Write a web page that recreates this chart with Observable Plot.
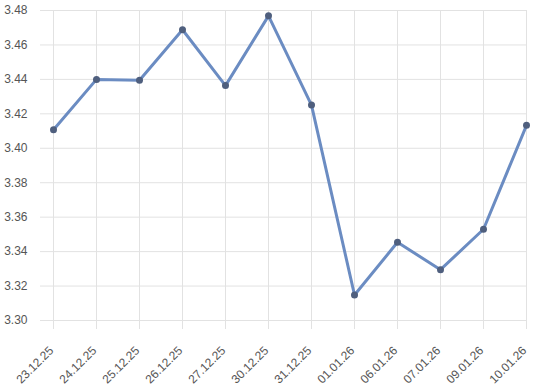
<!DOCTYPE html>
<html>
<head>
<meta charset="utf-8">
<script src="https://cdn.jsdelivr.net/npm/d3@7"></script>
<script src="https://cdn.jsdelivr.net/npm/@observablehq/plot@0.6"></script>
<style>
  html, body { margin: 0; padding: 0; background: #fff; }
</style>
</head>
<body>
<div id="chart"></div>
<script>
const dates = ["23.12.25","24.12.25","25.12.25","26.12.25","27.12.25","30.12.25","31.12.25","01.01.26","06.01.26","07.01.26","09.01.26","10.01.26"];
const values = [3.4108, 3.4400, 3.4395, 3.4688, 3.4364, 3.4769, 3.4251, 3.3148, 3.3454, 3.3295, 3.3530, 3.4133];
const yTicks = [3.30, 3.32, 3.34, 3.36, 3.38, 3.40, 3.42, 3.44, 3.46, 3.48];

const data = dates.map((d, i) => ({date: d, value: values[i]}));

const chart = Plot.plot({
  width: 536,
  height: 391,
  marginLeft: 40,
  marginRight: 9,
  marginTop: 10,
  marginBottom: 71,
  style: {fontFamily: "'Liberation Sans', Arial, sans-serif", fontSize: "12px", background: "#fff"},
  x: {type: "point", domain: dates, padding: 0, insetLeft: 11, label: null},
  y: {domain: [3.30, 3.48], label: null},
  marks: [
    Plot.ruleY(yTicks, {stroke: "#e2e2e2", strokeWidth: 1}),
    Plot.ruleX(dates, {y1: 3.48, y2: 3.30, insetBottom: -9, stroke: "#e2e2e2", strokeWidth: 1}),
    Plot.axisY(yTicks, {tickSize: 0, tickPadding: 13, tickFormat: d => d.toFixed(2), fill: "#555", fontSize: 12}),
    Plot.axisX({tickSize: 0, tickPadding: 28, dx: -2, tickRotate: -45, fill: "#555", fontSize: 12}),
    Plot.line(data, {x: "date", y: "value", stroke: "#6b8cc2", strokeWidth: 3, strokeLinejoin: "round"}),
    Plot.dot(data, {x: "date", y: "value", r: 3.5, fill: "#4f5f7e", stroke: "none"})
  ]
});
document.getElementById("chart").appendChild(chart);
</script>
</body>
</html>
